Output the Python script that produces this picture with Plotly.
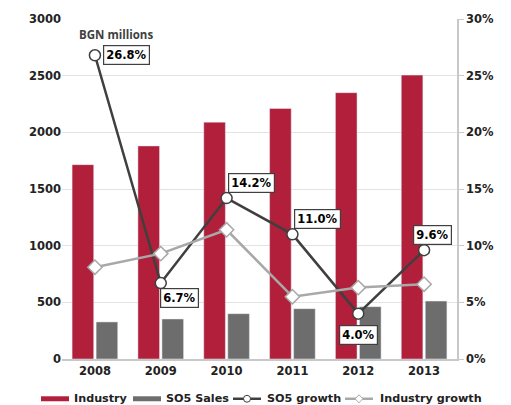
import plotly.graph_objects as go

years = ["2008", "2009", "2010", "2011", "2012", "2013"]
industry = [1715, 1880, 2090, 2210, 2350, 2505]
so5_sales = [327, 353, 400, 444, 462, 511]
so5_growth = [26.8, 6.7, 14.2, 11.0, 4.0, 9.6]
industry_growth = [8.1, 9.3, 11.4, 5.5, 6.3, 6.6]

# label offsets (px) for the SO5 growth value boxes
label_dx = [32, 19, 25, 25, 0, 8]
label_dy = [0, -15, 15, 15, -21, 15]

RED = "#B21F3A"
GREY = "#6D6D6D"
DARK = "#3F3F3F"
LIGHT = "#A8A8A8"
FONT = "DejaVu Sans"

# plot area in pixels, used to place the hand-drawn legend below the axis
W, H = 511, 405
ML, MR, MT, MB = 62, 54, 17, 46
PW, PH = W - ML - MR, H - MT - MB


def px(x):
    return (x - ML) / PW


def py(y):
    return (H - MB - y) / PH


fig = go.Figure()
fig.add_trace(go.Bar(x=years, y=industry, name="Industry", marker_color=RED))
fig.add_trace(go.Bar(x=years, y=so5_sales, name="SO5 Sales", marker_color=GREY))
fig.add_trace(go.Scatter(
    x=years, y=so5_growth, name="SO5 growth", yaxis="y2", mode="lines+markers",
    line=dict(color=DARK, width=2.5),
    marker=dict(symbol="circle", size=11, color="white", line=dict(color=DARK, width=1.5)),
))
fig.add_trace(go.Scatter(
    x=years, y=industry_growth, name="Industry growth", yaxis="y2", mode="lines+markers",
    line=dict(color=LIGHT, width=2.5),
    marker=dict(symbol="diamond", size=11, color="white", line=dict(color=LIGHT, width=1.5)),
))

# value boxes; x given as category index
for i, (v, dx, dy) in enumerate(zip(so5_growth, label_dx, label_dy)):
    fig.add_annotation(
        x=i, y=v, yref="y2", text=f"<b>{v:.1f}%</b>", showarrow=False,
        xshift=dx, yshift=dy, bgcolor="white", bordercolor=DARK, borderwidth=1.2,
        borderpad=2, font=dict(family=FONT, size=11.5, color="black"),
    )

fig.add_annotation(
    x=px(116), y=py(33), xref="paper", yref="paper",
    xanchor="center", yanchor="middle",
    text="<b>BGN millions</b>", showarrow=False,
    font=dict(family="Open Sans", size=11.5, color="#404040"),
)

# legend row
LY = 399
shapes = []
legend_items = [
    ("rect", RED, 41, "Industry", 72),
    ("rect", GREY, 133, "SO5 Sales", 164),
    ("circle", DARK, 233, "SO5 growth", 265),
    ("diamond", LIGHT, 345, "Industry growth", 378),
]
for kind, col, x0, label, tx in legend_items:
    if kind == "rect":
        shapes.append(dict(type="rect", xref="paper", yref="paper",
                           x0=px(x0), x1=px(x0 + 28), y0=py(LY + 2.5), y1=py(LY - 2.5),
                           fillcolor=col, line=dict(width=0)))
    else:
        shapes.append(dict(type="line", xref="paper", yref="paper",
                           x0=px(x0), x1=px(x0 + 28), y0=py(LY), y1=py(LY),
                           line=dict(color=col, width=2.5)))
        cx = x0 + 14
        if kind == "circle":
            shapes.append(dict(type="circle", xref="paper", yref="paper",
                               x0=px(cx - 3.5), x1=px(cx + 3.5), y0=py(LY + 3.5), y1=py(LY - 3.5),
                               fillcolor="white", line=dict(color=col, width=1)))
        else:
            path = (f"M{px(cx - 4)},{py(LY)} L{px(cx)},{py(LY - 4)} "
                    f"L{px(cx + 4)},{py(LY)} L{px(cx)},{py(LY + 4)} Z")
            shapes.append(dict(type="path", xref="paper", yref="paper", path=path,
                               fillcolor="white", line=dict(color=col, width=1)))
    fig.add_annotation(x=px(tx), y=py(LY), xref="paper", yref="paper",
                       xanchor="left", yanchor="middle", showarrow=False,
                       text=f"<b>{label}</b>",
                       font=dict(family=FONT, size=11.2, color="#222222"))

fig.update_layout(
    width=W, height=H,
    margin=dict(l=ML, r=MR, t=MT, b=MB),
    paper_bgcolor="white", plot_bgcolor="white",
    barmode="group", bargap=0.27, bargroupgap=0.1,
    font=dict(family=FONT, size=11.5, color="#222222"),
    showlegend=False,
    shapes=shapes,
    xaxis=dict(type="category", range=[-0.5, len(years) - 0.5], autorange=False,
               showgrid=False, showline=True, linecolor="#C8C8C8",
               linewidth=1.5, ticks="",
               tickfont=dict(family=FONT, size=11.5, weight="bold")),
    yaxis=dict(range=[0, 3000], dtick=500, showgrid=True, gridcolor="#E3E3E3",
               zeroline=False, showline=False, ticks="",
               tickfont=dict(family=FONT, size=11.5, weight="bold")),
    yaxis2=dict(range=[0, 30], dtick=5, overlaying="y", side="right",
                showgrid=False, zeroline=False, showline=True, linecolor="#C8C8C8",
                linewidth=1.5, ticks="outside", ticklen=5, tickcolor="#C8C8C8",
                ticksuffix="%", tickfont=dict(family=FONT, size=11.5, weight="bold")),
)

fig.write_html("out.html")
